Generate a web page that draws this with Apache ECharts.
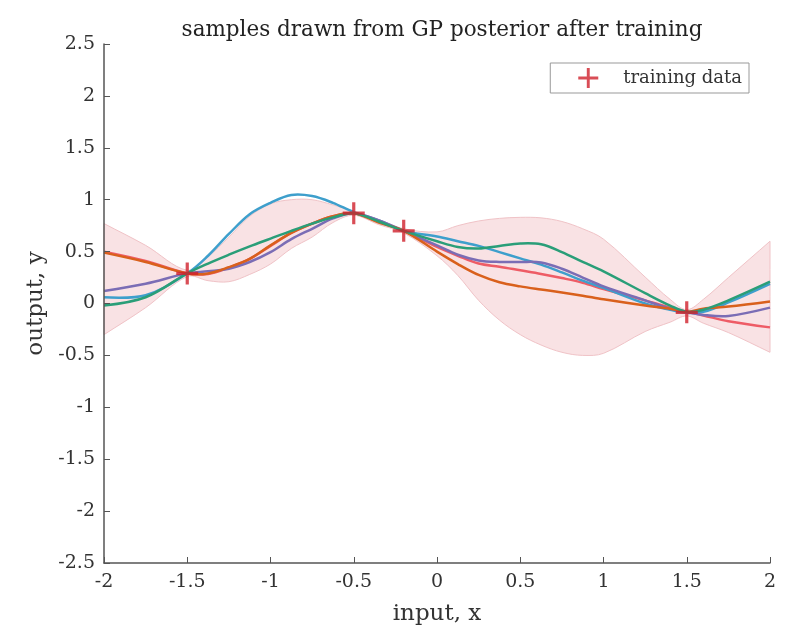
<!DOCTYPE html>
<html>
<head>
<meta charset="utf-8">
<script src="https://cdn.jsdelivr.net/npm/echarts@6/dist/echarts.min.js"></script>
<style>
  html, body { margin: 0; padding: 0; background: #fff; }
  #gpPosterior { width: 790px; height: 631px; }
</style>
</head>
<body>
<div id="gpPosterior"></div>
<script>
// input positions where the curves were read
const xs = [-2, -1.75, -1.5, -1.375, -1.25, -1.125, -1, -0.875, -0.75, -0.625, -0.5, -0.35, -0.2,
  0, 0.125, 0.25, 0.375, 0.5, 0.625, 0.75, 0.875, 1, 1.25, 1.4, 1.5, 1.6, 1.75, 2]

// confidence band
const bandUpper = [0.77, 0.56, 0.32, 0.45, 0.64, 0.84, 0.96, 1.0, 1.0, 0.95, 0.89, 0.81, 0.72,
  0.69, 0.75, 0.795, 0.82, 0.83, 0.825, 0.79, 0.72, 0.62, 0.255, 0.04, -0.06, 0.04, 0.25, 0.60]
const bandLower = [-0.30, -0.04, 0.26, 0.22, 0.21, 0.28, 0.38, 0.53, 0.64, 0.78, 0.85, 0.76, 0.68,
  0.46, 0.27, 0.03, -0.16, -0.30, -0.40, -0.47, -0.50, -0.48, -0.27, -0.18, -0.12, -0.19, -0.28, -0.47]

// posterior samples
const sampleBlue = [0.06, 0.08, 0.29, 0.46, 0.67, 0.86, 0.97, 1.045, 1.035, 0.97, 0.88, 0.80, 0.70,
  0.645, 0.60, 0.555, 0.495, 0.435, 0.375, 0.30, 0.22, 0.15, 0.0, -0.06, -0.09, -0.08, 0.01, 0.19]
const sampleGreen = [-0.02, 0.06, 0.29, 0.385, 0.47, 0.55, 0.625, 0.70, 0.77, 0.83, 0.87, 0.79, 0.70,
  0.60, 0.545, 0.53, 0.555, 0.578, 0.57, 0.495, 0.40, 0.31, 0.10, -0.02, -0.08, -0.06, 0.03, 0.21]
const samplePurple = [0.12, 0.19, 0.29, 0.31, 0.335, 0.40, 0.495, 0.62, 0.72, 0.82, 0.87, 0.80, 0.70,
  0.56, 0.47, 0.415, 0.40, 0.40, 0.395, 0.335, 0.25, 0.165, 0.03, -0.05, -0.08, -0.11, -0.12, -0.04]
const sampleRed = [0.50, 0.41, 0.29, 0.285, 0.345, 0.43, 0.555, 0.68, 0.77, 0.84, 0.87, 0.79, 0.70,
  0.545, 0.46, 0.385, 0.355, 0.32, 0.285, 0.245, 0.20, 0.14, 0.03, -0.04, -0.08, -0.115, -0.17, -0.23]
const sampleOrange = [0.49, 0.40, 0.29, 0.29, 0.35, 0.43, 0.56, 0.68, 0.77, 0.84, 0.87, 0.78, 0.70,
  0.50, 0.38, 0.275, 0.205, 0.165, 0.135, 0.107, 0.075, 0.04, -0.02, -0.05, -0.08, -0.05, -0.03, 0.02]

// training data
const trainX = [-1.5, -0.5, -0.2, 1.5]
const trainY = [0.29, 0.87, 0.70, -0.085]

const yTicks = [-2.5, -2, -1.5, -1, -0.5, 0, 0.5, 1, 1.5, 2, 2.5]

const serif = 'DejaVu Serif'
const plusPath = 'path://M-1.6,-11L1.6,-11L1.6,-1.6L11,-1.6L11,1.6L1.6,1.6L1.6,11L-1.6,11L-1.6,1.6L-11,1.6L-11,-1.6L-1.6,-1.6Z'
const curveSmooth = 0.35

const pairs = (ys) => xs.map((x, i) => [x, ys[i]])

// one smooth polyline per sample, drawn once from the whole array
const sampleCurve = (name, ys, color) => ({
  name: name,
  type: 'custom',
  data: pairs(ys),
  silent: true,
  z: 3,
  renderItem: (params, api) => {
    if (params.dataIndex !== 0) return
    const points = xs.map((x, i) => api.coord([x, ys[i]]))
    return {
      type: 'polyline',
      shape: { points: points, smooth: curveSmooth },
      style: { stroke: color, lineWidth: 2.5, fill: null }
    }
  }
})

// closed band outline: upper edge left to right, lower edge back; ends doubled to keep them straight
const bandSeries = {
  name: 'band',
  type: 'custom',
  data: pairs(bandUpper),
  silent: true,
  z: 1,
  renderItem: (params, api) => {
    if (params.dataIndex !== 0) return
    const up = xs.map((x, i) => api.coord([x, bandUpper[i]]))
    const low = xs.map((x, i) => api.coord([x, bandLower[i]])).reverse()
    const points = [up[0]].concat(up, [up[up.length - 1]], [low[0]], low, [low[low.length - 1]])
    return {
      type: 'polygon',
      shape: { points: points, smooth: curveSmooth },
      style: { fill: '#F9E2E4', stroke: '#F0C3C7', lineWidth: 1 }
    }
  }
}

const chart = echarts.init(document.getElementById('gpPosterior'))

const option = {
  animation: false,
  backgroundColor: '#fff',
  title: {
    text: 'samples drawn from GP posterior after training',
    left: 437,
    top: 14,
    textAlign: 'center',
    textStyle: { fontFamily: serif, fontWeight: 'normal', fontSize: 21.5, color: '#222' }
  },
  legend: {
    data: ['training data'],
    right: 41,
    top: 63,
    orient: 'vertical',
    backgroundColor: '#fff',
    borderColor: '#999',
    borderWidth: 1,
    borderRadius: 0,
    padding: [5, 7, 5, 28],
    itemWidth: 20,
    itemHeight: 20,
    icon: plusPath,
    textStyle: { fontFamily: serif, fontSize: 18, color: '#333', padding: [0, 0, 0, 20] }
  },
  grid: { left: 104, right: 20, top: 44, bottom: 65 },
  xAxis: {
    type: 'value',
    min: -2,
    max: 2,
    interval: 0.5,
    z: 10,
    name: 'input, x',
    nameLocation: 'middle',
    nameGap: 40,
    nameTextStyle: { fontFamily: serif, fontSize: 23, color: '#333' },
    axisLine: { onZero: false, lineStyle: { color: '#555', width: 1.5 } },
    axisTick: { inside: true, length: 6, lineStyle: { color: '#555' } },
    axisLabel: { fontFamily: serif, fontSize: 19, color: '#333', margin: 10 },
    splitLine: { show: false }
  },
  yAxis: {
    type: 'value',
    min: yTicks[0],
    max: yTicks[yTicks.length - 1],
    interval: 0.5,
    z: 10,
    name: 'output, y',
    nameLocation: 'middle',
    nameRotate: 90,
    nameGap: 52,
    nameTextStyle: { fontFamily: serif, fontSize: 23, color: '#333' },
    axisLine: { show: true, onZero: false, lineStyle: { color: '#555', width: 1.5 } },
    axisTick: { show: true, inside: true, length: 6, lineStyle: { color: '#555' } },
    axisLabel: { fontFamily: serif, fontSize: 19, color: '#333', margin: 9 },
    splitLine: { show: false }
  },
  series: [
    bandSeries,
    sampleCurve('sample 4', sampleRed, '#EE5C66'),
    sampleCurve('sample 1', sampleBlue, '#3E9FCC'),
    sampleCurve('sample 5', samplePurple, '#7B6DB5'),
    sampleCurve('sample 3', sampleOrange, '#D9601C'),
    sampleCurve('sample 2', sampleGreen, '#2A9E78'),
    {
      name: 'training data',
      type: 'scatter',
      data: trainX.map((x, i) => [x, trainY[i]]),
      symbol: plusPath,
      symbolSize: 22,
      itemStyle: { color: '#D0202C' },
      z: 5
    }
  ]
}

chart.setOption(option)
</script>
</body>
</html>
